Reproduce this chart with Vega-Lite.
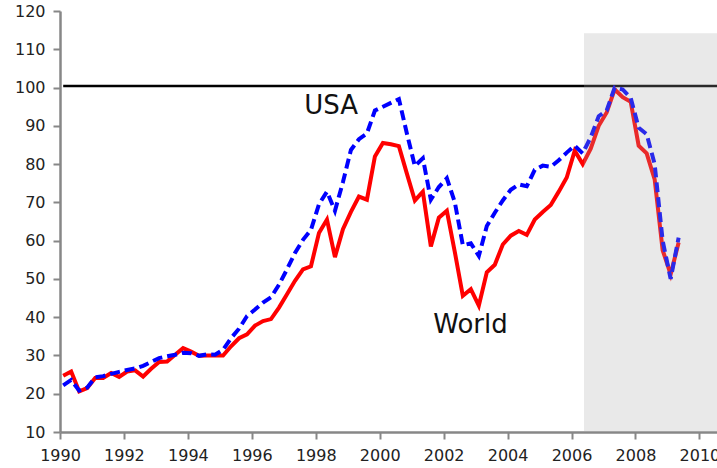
{
  "$schema": "https://vega.github.io/schema/vega-lite/v6.json",
  "width": 657,
  "height": 421,
  "autosize": {"type": "none"},
  "padding": {"left": 60, "top": 11, "right": 0, "bottom": 36},
  "background": "white",
  "config": {
    "view": {"stroke": null},
    "font": "DejaVu Sans",
    "axis": {
      "title": null, "grid": false,
      "domainColor": "#878787", "domainWidth": 2.5,
      "tickColor": "#878787", "tickWidth": 2, "tickSize": 7,
      "labelFontSize": 16, "labelColor": "#222222", "labelPadding": 8,
      "labelOverlap": false, "labelFlush": false, "labelBound": false
    }
  },
  "datasets": {
    "series": [
      {"t": 1990.10, "world": 24.7, "usa": 22.2},
      {"t": 1990.35, "world": 25.8, "usa": 23.6},
      {"t": 1990.60, "world": 20.6, "usa": 20.8},
      {"t": 1990.85, "world": 21.5, "usa": 21.6},
      {"t": 1991.10, "world": 24.1, "usa": 24.3},
      {"t": 1991.35, "world": 24.1, "usa": 24.6},
      {"t": 1991.60, "world": 25.4, "usa": 25.2},
      {"t": 1991.85, "world": 24.4, "usa": 25.7},
      {"t": 1992.10, "world": 25.8, "usa": 26.2},
      {"t": 1992.35, "world": 26.1, "usa": 26.6},
      {"t": 1992.60, "world": 24.5, "usa": 27.3},
      {"t": 1992.85, "world": 26.5, "usa": 28.3},
      {"t": 1993.10, "world": 28.3, "usa": 29.3},
      {"t": 1993.35, "world": 28.4, "usa": 29.8},
      {"t": 1993.60, "world": 30.2, "usa": 30.2},
      {"t": 1993.85, "world": 31.9, "usa": 30.7},
      {"t": 1994.10, "world": 31.0, "usa": 30.6},
      {"t": 1994.35, "world": 29.9, "usa": 29.9},
      {"t": 1994.60, "world": 30.0, "usa": 30.3},
      {"t": 1994.85, "world": 30.0, "usa": 30.2},
      {"t": 1995.10, "world": 30.0, "usa": 31.5},
      {"t": 1995.35, "world": 32.4, "usa": 34.5},
      {"t": 1995.60, "world": 34.5, "usa": 37.0},
      {"t": 1995.85, "world": 35.5, "usa": 40.3},
      {"t": 1996.10, "world": 37.8, "usa": 42.0},
      {"t": 1996.35, "world": 39.0, "usa": 43.8},
      {"t": 1996.60, "world": 39.5, "usa": 45.2},
      {"t": 1996.85, "world": 42.5, "usa": 48.5},
      {"t": 1997.10, "world": 46.0, "usa": 52.5},
      {"t": 1997.35, "world": 49.5, "usa": 56.8},
      {"t": 1997.60, "world": 52.5, "usa": 60.2},
      {"t": 1997.85, "world": 53.3, "usa": 62.8},
      {"t": 1998.10, "world": 62.0, "usa": 69.5},
      {"t": 1998.35, "world": 65.5, "usa": 72.8},
      {"t": 1998.60, "world": 55.7, "usa": 67.8},
      {"t": 1998.85, "world": 63.0, "usa": 75.3},
      {"t": 1999.10, "world": 67.5, "usa": 83.7},
      {"t": 1999.35, "world": 71.5, "usa": 86.5},
      {"t": 1999.60, "world": 70.7, "usa": 88.0},
      {"t": 1999.85, "world": 82.0, "usa": 94.0},
      {"t": 2000.10, "world": 85.5, "usa": 95.0},
      {"t": 2000.35, "world": 85.2, "usa": 96.0},
      {"t": 2000.60, "world": 84.7, "usa": 97.0},
      {"t": 2000.85, "world": 77.5, "usa": 88.0},
      {"t": 2001.10, "world": 70.5, "usa": 79.5},
      {"t": 2001.35, "world": 72.8, "usa": 81.5},
      {"t": 2001.60, "world": 58.5, "usa": 70.7},
      {"t": 2001.85, "world": 66.0, "usa": 74.0},
      {"t": 2002.10, "world": 67.8, "usa": 76.3},
      {"t": 2002.35, "world": 57.0, "usa": 70.0},
      {"t": 2002.60, "world": 45.6, "usa": 58.8},
      {"t": 2002.85, "world": 47.3, "usa": 59.3},
      {"t": 2003.10, "world": 43.0, "usa": 56.0},
      {"t": 2003.35, "world": 51.7, "usa": 63.8},
      {"t": 2003.60, "world": 53.7, "usa": 67.3},
      {"t": 2003.85, "world": 59.0, "usa": 70.5},
      {"t": 2004.10, "world": 61.3, "usa": 73.3},
      {"t": 2004.35, "world": 62.5, "usa": 74.7},
      {"t": 2004.60, "world": 61.5, "usa": 74.2},
      {"t": 2004.85, "world": 65.5, "usa": 78.5},
      {"t": 2005.10, "world": 67.5, "usa": 79.6},
      {"t": 2005.35, "world": 69.3, "usa": 79.3},
      {"t": 2005.60, "world": 72.8, "usa": 81.0},
      {"t": 2005.85, "world": 76.5, "usa": 83.0},
      {"t": 2006.10, "world": 83.5, "usa": 84.8},
      {"t": 2006.35, "world": 80.0, "usa": 82.8},
      {"t": 2006.60, "world": 84.0, "usa": 87.0},
      {"t": 2006.85, "world": 90.0, "usa": 92.5},
      {"t": 2007.10, "world": 93.5, "usa": 94.0},
      {"t": 2007.35, "world": 99.5, "usa": 100.0},
      {"t": 2007.60, "world": 97.5, "usa": 99.5},
      {"t": 2007.85, "world": 96.3, "usa": 97.3},
      {"t": 2008.10, "world": 84.8, "usa": 89.5},
      {"t": 2008.35, "world": 82.8, "usa": 87.8},
      {"t": 2008.60, "world": 76.0, "usa": 80.0},
      {"t": 2008.85, "world": 57.5, "usa": 60.0},
      {"t": 2009.10, "world": 51.2, "usa": 50.0},
      {"t": 2009.35, "world": 59.5, "usa": 60.8}
    ],
    "refline": [{"x1": 1990.1, "x2": 2010.55, "y": 100.4}],
    "shade": [{"x1": 2006.39, "x2": 2010.55, "y1": 10, "y2": 114.2}],
    "labels": [
      {"t": 1998.48, "v": 95.2, "label": "USA"},
      {"t": 2002.84, "v": 37.9, "label": "World"}
    ]
  },
  "layer": [
    {
      "data": {"name": "refline"},
      "mark": {"type": "rule", "color": "black", "strokeWidth": 2.5},
      "encoding": {
        "x": {"field": "x1", "type": "quantitative",
              "scale": {"domain": [1990, 2010.55], "nice": false, "zero": false},
              "axis": {
                "values": [1990,1991,1992,1993,1994,1995,1996,1997,1998,1999,2000,2001,2002,2003,2004,2005,2006,2007,2008,2009,2010],
                "labelExpr": "datum.value % 2 == 0 ? '' + datum.value : ''",
                "labelDx": 4
              }},
        "x2": {"field": "x2"},
        "y": {"field": "y", "type": "quantitative",
              "scale": {"domain": [10, 120], "nice": false, "zero": false},
              "axis": {"values": [10,20,30,40,50,60,70,80,90,100,110,120]}}
      }
    },
    {
      "data": {"name": "series"},
      "mark": {"type": "line", "color": "#ff0000", "strokeWidth": 4, "strokeJoin": "miter"},
      "encoding": {
        "x": {"field": "t", "type": "quantitative"},
        "y": {"field": "world", "type": "quantitative",
              "axis": {"values": [10,20,30,40,50,60,70,80,90,100,110,120]}}
      }
    },
    {
      "data": {"name": "series"},
      "mark": {"type": "line", "color": "#0000ff", "strokeWidth": 4, "strokeDash": [10, 5]},
      "encoding": {
        "x": {"field": "t", "type": "quantitative"},
        "y": {"field": "usa", "type": "quantitative",
              "axis": {"values": [10,20,30,40,50,60,70,80,90,100,110,120]}}
      }
    },
    {
      "data": {"name": "shade"},
      "mark": {"type": "rect", "color": "#a7a7a7", "opacity": 0.25},
      "encoding": {
        "x": {"field": "x1", "type": "quantitative"},
        "x2": {"field": "x2"},
        "y": {"field": "y1", "type": "quantitative",
              "axis": {"values": [10,20,30,40,50,60,70,80,90,100,110,120]}},
        "y2": {"field": "y2"}
      }
    },
    {
      "data": {"name": "labels"},
      "mark": {"type": "text", "fontSize": 26, "color": "#111111", "align": "center", "baseline": "middle"},
      "encoding": {
        "x": {"field": "t", "type": "quantitative"},
        "y": {"field": "v", "type": "quantitative",
              "axis": {"values": [10,20,30,40,50,60,70,80,90,100,110,120]}},
        "text": {"field": "label"}
      }
    }
  ]
}
